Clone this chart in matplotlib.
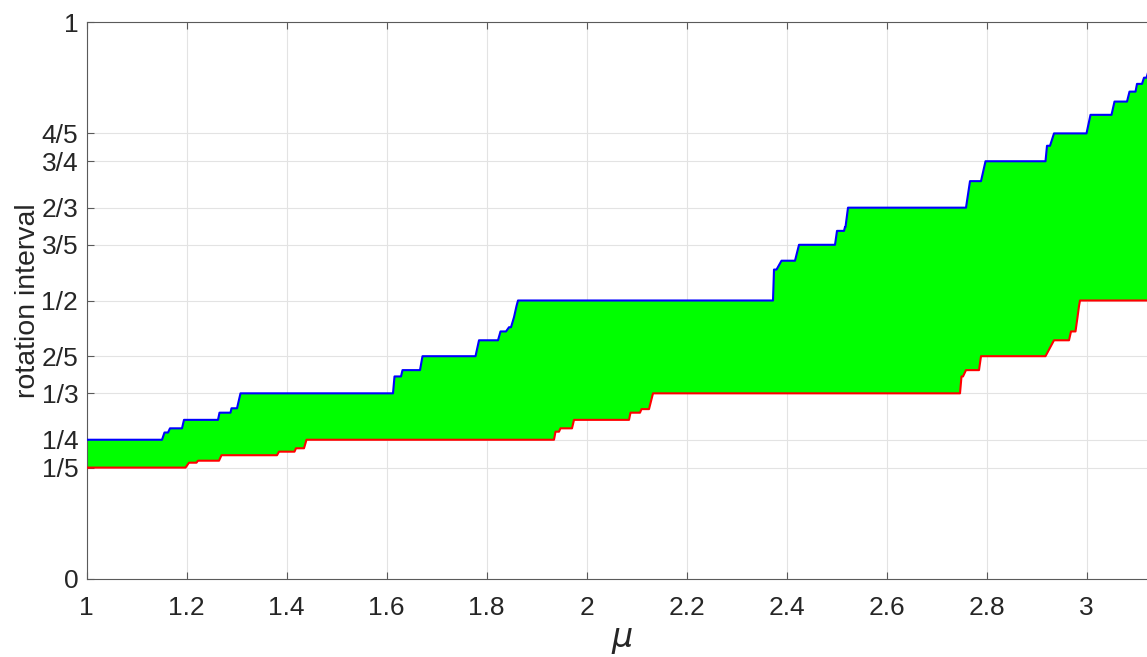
import numpy as np
import matplotlib
matplotlib.use("Agg")
import matplotlib.pyplot as plt

# ---- data: plateaus of the upper (blue) and lower (red) rotation-interval endpoints
upper_start = [1.000, 1.156, 1.167, 1.195, 1.266, 1.290, 1.308, 1.616, 1.632, 1.672,
               1.785, 1.828, 1.845, 1.855, 1.860, 1.863, 2.375, 2.390, 2.425, 2.501,
               2.517, 2.523, 2.767, 2.798, 2.921, 2.935, 3.008, 3.056, 3.086, 3.101,
               3.115, 3.123, 3.130, 3.136]
upper_end = [1.151, 1.163, 1.191, 1.263, 1.288, 1.301, 1.613, 1.629, 1.667, 1.778,
             1.823, 1.839, 1.849, 1.855, 1.860, 2.373, 2.380, 2.417, 2.497, 2.515,
             2.518, 2.759, 2.789, 2.918, 2.927, 3.000, 3.050, 3.081, 3.098, 3.111,
             3.120, 3.127, 3.133, 3.1416]
upper_value = [1/4, 0.263, 0.2705, 2/7, 0.2986, 0.3065, 1/3, 4/11, 3/8, 2/5,
               3/7, 4/9, 0.452, 0.470, 0.490, 1/2, 5/9, 4/7, 3/5, 5/8,
               0.632, 2/3, 5/7, 3/4, 7/9, 4/5, 5/6, 6/7, 7/8, 8/9,
               9/10, 10/11, 11/12, 12/13]

lower_start = [1.000, 1.205, 1.223, 1.270, 1.385, 1.419, 1.440, 1.938, 1.948, 1.975,
               2.088, 2.110, 2.133, 2.750, 2.759, 2.789, 2.935, 2.969, 2.982, 2.985,
               2.987]
lower_end = [1.198, 1.220, 1.265, 1.381, 1.416, 1.435, 1.935, 1.945, 1.971, 2.085,
             2.107, 2.125, 2.747, 2.753, 2.785, 2.918, 2.965, 2.978, 2.982, 2.985,
             3.1416]
lower_value = [1/5, 0.2088, 0.2124, 2/9, 0.2286, 0.2347, 1/4, 0.2645, 0.2705, 2/7,
               0.2986, 0.305, 1/3, 4/11, 3/8, 2/5, 3/7, 4/9, 0.470, 0.490,
               1/2]

xticks = [1, 1.2, 1.4, 1.6, 1.8, 2, 2.2, 2.4, 2.6, 2.8, 3]
xticklabels = ["1", "1.2", "1.4", "1.6", "1.8", "2", "2.2", "2.4", "2.6", "2.8", "3"]
yticks = [0, 1/5, 1/4, 1/3, 2/5, 1/2, 3/5, 2/3, 3/4, 4/5, 1]
yticklabels = ["0", "1/5", "1/4", "1/3", "2/5", "1/2", "3/5", "2/3", "3/4", "4/5", "1"]


def polyline(starts, ends, values):
    xs, ys = [], []
    for a, b, v in zip(starts, ends, values):
        xs += [a, b]
        ys += [v, v]
    return np.array(xs), np.array(ys)


plt.rcParams["font.family"] = ["Liberation Sans", "DejaVu Sans"]
txt = "#262626"

fig = plt.figure(figsize=(11.47, 6.57), dpi=100)
W, H = 1147, 657
x0, x1 = 86.5, 1157.3
y_top, y_bot = 22, 579
ax = fig.add_axes([x0 / W, (H - y_bot) / H, (x1 - x0) / W, (y_bot - y_top) / H])

xu, yu = polyline(upper_start, upper_end, upper_value)
xl, yl = polyline(lower_start, lower_end, lower_value)

ax.fill(np.concatenate([xu, xl[::-1]]), np.concatenate([yu, yl[::-1]]),
        color="#00ff00", lw=0, zorder=2)
ax.plot(xu, yu, color="#0000ff", lw=1.5, zorder=3)
ax.plot(xl, yl, color="#ff0000", lw=1.5, zorder=3)

ax.set_xlim(1, np.pi)
ax.set_ylim(0, 1)
ax.set_xticks(xticks)
ax.set_xticklabels(xticklabels)
ax.set_yticks(yticks)
ax.set_yticklabels(yticklabels)
ax.grid(True, color="#e3e3e3", lw=0.8, zorder=0)
ax.set_axisbelow(True)
ax.tick_params(direction="in", length=5, width=0.8, colors="#5a5a5a",
               labelcolor=txt, labelsize=19, top=True, right=True)
ax.tick_params(axis="x", pad=12)
ax.tick_params(axis="y", pad=6)
for s in ax.spines.values():
    s.set_color("#5a5a5a")
    s.set_linewidth(0.8)

ax.set_xlabel(r"$\mu$", fontsize=24, color=txt, labelpad=4)
ax.set_ylabel("rotation interval", fontsize=20.5, color=txt, labelpad=0)

fig.savefig("out.png", dpi=100)
